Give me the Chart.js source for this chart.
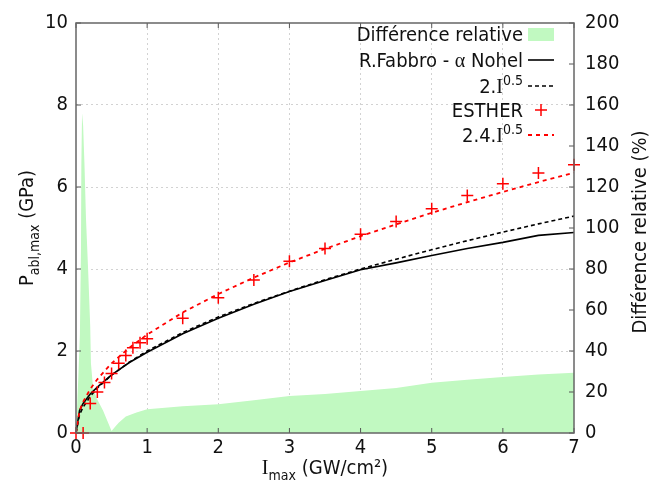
<!DOCTYPE html>
<html>
<head>
<meta charset="utf-8">
<script src="https://cdn.jsdelivr.net/npm/chart.js@4.4.1/dist/chart.umd.min.js"></script>
<style>
  body { margin: 0; background: #fff; }
</style>
</head>
<body>
<canvas id="chart" width="652" height="481"></canvas>
<script>
const FONT = '"DejaVu Sans Condensed", "DejaVu Sans", sans-serif';
const SERIF = '"Liberation Serif", "DejaVu Serif", serif';

// intensité I_max (GW/cm²) pour les courbes modèles
const intensiteModele = [0, 0.05, 0.1, 0.2, 0.3, 0.5, 0.75, 1, 1.5, 2, 2.5, 3, 3.5, 4, 4.5, 5, 5.5, 6, 6.5, 7];
const fabbroNohel = [0, 0.55, 0.72, 0.95, 1.12, 1.42, 1.72, 1.97, 2.42, 2.8, 3.14, 3.45, 3.72, 3.98, 4.15, 4.33, 4.5, 4.65, 4.82, 4.89];
const loi2 = [0, 0.45, 0.63, 0.89, 1.1, 1.41, 1.73, 2.0, 2.45, 2.83, 3.16, 3.46, 3.74, 4.0, 4.24, 4.47, 4.69, 4.9, 5.1, 5.29];
const loi24 = [0, 0.54, 0.76, 1.07, 1.31, 1.7, 2.08, 2.4, 2.94, 3.39, 3.79, 4.16, 4.49, 4.8, 5.09, 5.37, 5.63, 5.88, 6.12, 6.35];

// points ESTHER
const intensiteEsther = [0, 0.1, 0.2, 0.3, 0.4, 0.5, 0.6, 0.7, 0.8, 0.9, 1, 1.5, 2, 2.5, 3, 3.5, 4, 4.5, 5, 5.5, 6, 6.5, 7];
const esther = [0, 0, 0.72, 1.0, 1.23, 1.45, 1.7, 1.89, 2.08, 2.2, 2.3, 2.8, 3.3, 3.73, 4.19, 4.5, 4.85, 5.16, 5.47, 5.79, 6.08, 6.34, 6.54];

// différence relative (%)
const intensiteDiff = [0, 0.03, 0.055, 0.07, 0.075, 0.085, 0.1, 0.12, 0.14, 0.17, 0.2, 0.21, 0.24, 0.29, 0.38, 0.5, 0.55, 0.6, 0.7, 0.85, 1, 1.5, 2, 2.5, 3, 3.5, 4, 4.5, 5, 5.5, 6, 6.5, 7];
const diffRelative = [0, 25, 48, 90, 130, 156, 150, 130, 105, 80, 52, 34, 22, 17, 11, 1, 3, 5, 8, 10, 11.6, 13, 14, 16, 18, 19, 20.5, 22, 24.5, 26, 27.3, 28.5, 29.4];

const xTicks = [0, 1, 2, 3, 4, 5, 6, 7];

function pts(xs, ys) {
  return xs.map((x, i) => ({ x: x, y: ys[i] }));
}

// texte avec indices / exposants
function richWidth(ctx, parts, size) {
  let w = 0;
  parts.forEach(p => {
    const s = (p.sub || p.sup) ? size * 0.7 : size;
    ctx.font = s + 'px ' + (p.serif ? SERIF : FONT);
    w += ctx.measureText(p.t).width;
  });
  return w;
}
function drawRich(ctx, parts, x, y, size, align) {
  const w = richWidth(ctx, parts, size);
  let cx = align === 'right' ? x - w : (align === 'center' ? x - w / 2 : x);
  ctx.textBaseline = 'alphabetic';
  ctx.textAlign = 'left';
  parts.forEach(p => {
    const s = (p.sub || p.sup) ? size * 0.7 : size;
    ctx.font = s + 'px ' + (p.serif ? SERIF : FONT);
    let dy = 0;
    if (p.sub) dy = size * 0.3;
    if (p.sup) dy = -size * 0.42;
    ctx.fillText(p.t, cx, y + dy);
    cx += ctx.measureText(p.t).width;
  });
}

const decorPlugin = {
  id: 'decor',
  afterDatasetsDraw(chart) {
    const ctx = chart.ctx;
    const a = chart.chartArea;
    const sx = chart.scales.x, sy = chart.scales.y, sy2 = chart.scales.y2;
    ctx.save();

    // ticks vers l'intérieur
    ctx.strokeStyle = '#555';
    ctx.lineWidth = 1;
    ctx.beginPath();
    sy.ticks.forEach(t => {
      const py = sy.getPixelForValue(t.value);
      ctx.moveTo(a.left, py); ctx.lineTo(a.left + 5, py);
    });
    sy2.ticks.forEach(t => {
      const py = sy2.getPixelForValue(t.value);
      ctx.moveTo(a.right, py); ctx.lineTo(a.right - 5, py);
    });
    sx.ticks.forEach(t => {
      const px = sx.getPixelForValue(t.value);
      ctx.moveTo(px, a.bottom); ctx.lineTo(px, a.bottom - 5);
      ctx.moveTo(px, a.top); ctx.lineTo(px, a.top + 5);
    });
    ctx.stroke();

    // cadre
    ctx.strokeStyle = '#666';
    ctx.lineWidth = 1.5;
    ctx.strokeRect(a.left, a.top, a.right - a.left, a.bottom - a.top);

    // légende
    const tx = 523, s0 = 528, s1 = 554;
    const rows = [
      { y: 34, parts: [{ t: 'Différence relative' }] },
      { y: 60, parts: [{ t: 'R.Fabbro - ' }, { t: 'α', serif: true }, { t: ' Nohel' }] },
      { y: 86, parts: [{ t: '2.' }, { t: 'I', serif: true }, { t: '0.5', sup: true }] },
      { y: 110, parts: [{ t: 'ESTHER' }] },
      { y: 135, parts: [{ t: '2.4.' }, { t: 'I', serif: true }, { t: '0.5', sup: true }] }
    ];
    rows.forEach((r, i) => {
      ctx.fillStyle = '#111';
      drawRich(ctx, r.parts, tx, r.y + 7, 20, 'right');
      const ds = chart.data.datasets[i];
      if (i === 0) {
        ctx.fillStyle = ds.backgroundColor;
        ctx.fillRect(s0, r.y - 6, s1 - s0, 13);
      } else if (i === 3) {
        ctx.strokeStyle = ds.borderColor;
        ctx.lineWidth = 1.5;
        ctx.beginPath();
        ctx.moveTo(541 - 6, r.y); ctx.lineTo(541 + 6, r.y);
        ctx.moveTo(541, r.y - 6); ctx.lineTo(541, r.y + 6);
        ctx.stroke();
      } else {
        ctx.strokeStyle = ds.borderColor;
        ctx.lineWidth = ds.borderWidth;
        ctx.setLineDash(ds.borderDash || []);
        ctx.beginPath();
        ctx.moveTo(s0, r.y); ctx.lineTo(s1, r.y);
        ctx.stroke();
        ctx.setLineDash([]);
      }
    });

    // titres des axes
    ctx.fillStyle = '#111';
    drawRich(ctx, [{ t: 'I', serif: true }, { t: 'max', sub: true }, { t: ' (GW/cm²)' }],
      (a.left + a.right) / 2, 474, 20, 'center');

    ctx.save();
    ctx.translate(33, (a.top + a.bottom) / 2);
    ctx.rotate(-Math.PI / 2);
    drawRich(ctx, [{ t: 'P' }, { t: 'abl,max', sub: true }, { t: ' (GPa)' }], 0, 0, 20, 'center');
    ctx.restore();

    ctx.save();
    ctx.translate(646, 232);
    ctx.rotate(-Math.PI / 2);
    drawRich(ctx, [{ t: 'Différence relative (%)' }], 0, 0, 20, 'center');
    ctx.restore();

    ctx.restore();
  }
};

const gridColor = (lo, hi) => (c) =>
  (c.tick.value === lo || c.tick.value === hi) ? 'rgba(0,0,0,0)' : '#d2d2d2';

new Chart(document.getElementById('chart'), {
  type: 'line',
  data: {
    datasets: [
      {
        label: 'Différence relative',
        data: pts(intensiteDiff, diffRelative),
        yAxisID: 'y2',
        backgroundColor: '#c1f9c1',
        borderWidth: 0,
        borderColor: 'rgba(0,0,0,0)',
        pointRadius: 0,
        fill: 'origin',
        order: 10
      },
      {
        label: 'R.Fabbro - α Nohel',
        data: pts(intensiteModele, fabbroNohel),
        yAxisID: 'y',
        borderColor: '#000',
        borderWidth: 1.6,
        pointRadius: 0,
        fill: false,
        order: 3
      },
      {
        label: '2.I^0.5',
        data: pts(intensiteModele, loi2),
        yAxisID: 'y',
        borderColor: '#000',
        borderWidth: 1.6,
        borderDash: [4, 3],
        pointRadius: 0,
        fill: false,
        order: 4
      },
      {
        label: 'ESTHER',
        data: pts(intensiteEsther, esther),
        yAxisID: 'y',
        showLine: false,
        borderColor: '#ff0000',
        pointStyle: 'cross',
        pointRadius: 6,
        pointBorderWidth: 1.5,
        clip: false,
        order: 1
      },
      {
        label: '2.4.I^0.5',
        data: pts(intensiteModele, loi24),
        yAxisID: 'y',
        borderColor: '#ff0000',
        borderWidth: 1.8,
        borderDash: [4, 4],
        pointRadius: 0,
        fill: false,
        order: 2
      }
    ]
  },
  options: {
    responsive: false,
    animation: false,
    layout: { padding: { top: 20, left: 0, right: 0, bottom: 0 } },
    plugins: {
      legend: { display: false },
      tooltip: { enabled: false }
    },
    scales: {
      x: {
        type: 'linear',
        min: 0, max: 7,
        afterBuildTicks: (s) => { s.ticks = xTicks.map(v => ({ value: v })); },
        afterFit: (s) => { s.height = 48; },
        grid: { color: gridColor(0, 7), drawTicks: false, lineWidth: 1 },
        border: { display: false, dash: [2, 3] },
        ticks: { color: '#111', font: { family: FONT, size: 20 }, padding: 3, maxRotation: 0 }
      },
      y: {
        position: 'left',
        min: 0, max: 10,
        afterFit: (s) => { s.width = 76; },
        grid: { color: gridColor(0, 10), drawTicks: false, lineWidth: 1 },
        border: { display: false, dash: [2, 3] },
        ticks: { stepSize: 2, color: '#111', font: { family: FONT, size: 20 }, padding: 8 }
      },
      y2: {
        position: 'right',
        min: 0, max: 200,
        afterFit: (s) => { s.width = 78; },
        grid: { drawOnChartArea: false, drawTicks: false },
        border: { display: false },
        ticks: { stepSize: 20, color: '#111', font: { family: FONT, size: 20 }, padding: 11 }
      }
    }
  },
  plugins: [decorPlugin]
});
</script>
</body>
</html>
